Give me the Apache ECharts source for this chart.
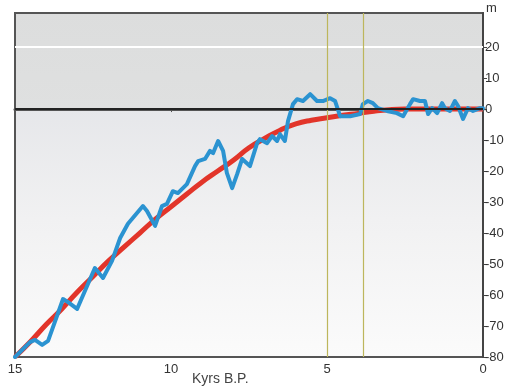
<!DOCTYPE html>
<html>
<head>
<meta charset="utf-8">
<script src="https://cdn.jsdelivr.net/npm/echarts@6/dist/echarts.min.js"></script>
<style>
  html, body { margin: 0; padding: 0; background: #ffffff; }
  #chart { width: 510px; height: 390px; }
</style>
</head>
<body>
<div id="chart"></div>
<script>
// Sea level relative to present (m) against age (thousands of years before present)

// Smoothed sea-level curve
const redAge   = [15, 14.5, 14, 13.5, 13, 12.5, 12, 11.5, 11, 10.5, 10, 9.5, 9, 8.5, 8, 7.5, 7, 6.5, 6, 5.5, 5, 4.5, 4, 3.5, 3, 2.5, 2, 1.5, 1, 0.5, 0];
const redLevel = [-80, -75, -69.5, -64.5, -59, -54, -49, -44.5, -40, -35.5, -31.5, -27.5, -23.5, -20, -16.5, -12.5, -9.5, -6.8, -4.8, -3.6, -2.8, -2, -1.4, -0.7, -0.2, 0, 0, 0, 0, 0, 0];

// Reconstructed sea-level record
const blueAge = [15, 14.52, 14.36, 14.13, 13.94, 13.46, 13.3, 13.01, 12.44, 12.18, 11.89, 11.63, 11.38, 10.9, 10.77, 10.51, 10.29, 10.13, 9.94, 9.78, 9.49, 9.23, 9.13, 8.91, 8.75, 8.65, 8.49, 8.33, 8.21, 8.04, 7.88, 7.72, 7.47, 7.24, 7.15, 6.92, 6.76, 6.6, 6.51, 6.35, 6.25, 6.09, 5.96, 5.77, 5.54, 5.32, 5.13, 4.9, 4.74, 4.58, 4.26, 3.94, 3.85, 3.69, 3.53, 3.37, 3.08, 2.76, 2.56, 2.34, 2.24, 2.02, 1.86, 1.76, 1.63, 1.47, 1.31, 1.22, 1.06, 0.9, 0.8, 0.64, 0.48, 0.32, 0.1, 0];
const blueLevel = [-80, -75.2, -74.5, -76.1, -74.8, -61.3, -62.3, -64.5, -51.3, -54.5, -49, -41.6, -37, -31.3, -32.9, -37.7, -31.3, -30.6, -26.5, -27.1, -24.2, -18.4, -16.8, -16.1, -13.5, -14.2, -10.3, -13.5, -20.6, -25.5, -21, -16.1, -18.4, -11, -9.7, -11, -8.7, -10.3, -8.1, -10.3, -3.9, 1.6, 3.2, 2.6, 4.8, 2.6, 2.6, 3.5, 2.6, -2.3, -2.3, -1.6, 1.6, 2.6, 1.9, 0.3, -0.6, -1.3, -2.3, 1.6, 3.2, 2.6, 2.6, -1.6, 0.3, -1.3, 1.9, 0.3, -0.6, 2.6, 1, -3.2, 0.3, -0.6, 0.3, 0.3];

// Axis ticks
const xTicks = [15, 10, 5, 0];
const yTicks = [20, 10, 0, -10, -20, -30, -40, -50, -60, -70, -80];

// Vertical marker ages and reference levels
const markerAges = [5, 3.85];
const zeroLevel = 0;
const upperLevel = 20;

const zip = (a, b) => a.map((v, i) => [v, b[i]]);

const fontFamily = "'Liberation Sans', Arial, sans-serif";
const chart = echarts.init(document.getElementById('chart'));

chart.setOption({
  animation: false,
  backgroundColor: '#ffffff',
  textStyle: { fontFamily: fontFamily },
  grid: {
    left: 15, right: 27, top: 13, bottom: 33,
    show: true,
    borderColor: '#555555',
    borderWidth: 2,
    backgroundColor: new echarts.graphic.LinearGradient(0, 0, 0, 1, [
      { offset: 0, color: '#dcdddd' },
      { offset: 0.279, color: '#dfe0e0' },
      { offset: 0.279, color: '#e6e7ea' },
      { offset: 0.6, color: '#f1f1f2' },
      { offset: 1, color: '#fbfbfb' }
    ])
  },
  xAxis: {
    type: 'value',
    inverse: true,
    min: 0, max: 15, interval: 5,
    splitLine: { show: false },
    axisLine: { show: true, lineStyle: { color: '#555555', width: 3 } },
    axisTick: { show: true, length: 3, lineStyle: { color: '#555555' }, customValues: xTicks },
    axisLabel: { color: '#333333', fontSize: 13, margin: 6, customValues: xTicks }
  },
  yAxis: {
    type: 'value',
    position: 'right',
    min: -80, max: 31, interval: 10,
    splitLine: { show: false },
    axisLine: { show: true, lineStyle: { color: '#444444', width: 2 } },
    axisTick: { show: true, length: 4, lineStyle: { color: '#444444' }, customValues: yTicks },
    axisLabel: {
      color: '#333333', fontSize: 13, margin: 2, customValues: yTicks,
      formatter: v => (v > 20 ? '' : String(v))
    }
  },
  graphic: [
    { type: 'text', left: 486, top: 2, style: { text: 'm', fontSize: 13, fill: '#333333', fontFamily: fontFamily } },
    { type: 'text', left: 192, top: 372, style: { text: 'Kyrs B.P.', fontSize: 14, fill: '#444444', fontFamily: fontFamily } }
  ],
  series: [
    {
      // vertical markers and the white upper reference line
      type: 'line', data: [], z: 1, silent: true,
      markLine: {
        silent: true, symbol: 'none', label: { show: false },
        data: [
          { yAxis: upperLevel, lineStyle: { color: '#ffffff', width: 2, type: 'solid' } },
          ...markerAges.map(a => ({ xAxis: a, lineStyle: { color: '#bdb65c', width: 1.2, type: 'solid' } }))
        ]
      }
    },
    {
      type: 'line', z: 2, silent: true,
      data: zip(redAge, redLevel),
      smooth: true, showSymbol: false,
      lineStyle: { color: '#e2352a', width: 5 }
    },
    {
      // present-day sea level
      type: 'line', data: [], z: 3, silent: true,
      markLine: {
        silent: true, symbol: 'none', label: { show: false },
        data: [{ yAxis: zeroLevel, lineStyle: { color: '#222222', width: 2, type: 'solid' } }]
      }
    },
    {
      type: 'line', z: 4, silent: true,
      data: zip(blueAge, blueLevel),
      showSymbol: false,
      lineStyle: { color: '#2b93d1', width: 4, join: 'round', cap: 'round' }
    }
  ]
});
</script>
</body>
</html>
